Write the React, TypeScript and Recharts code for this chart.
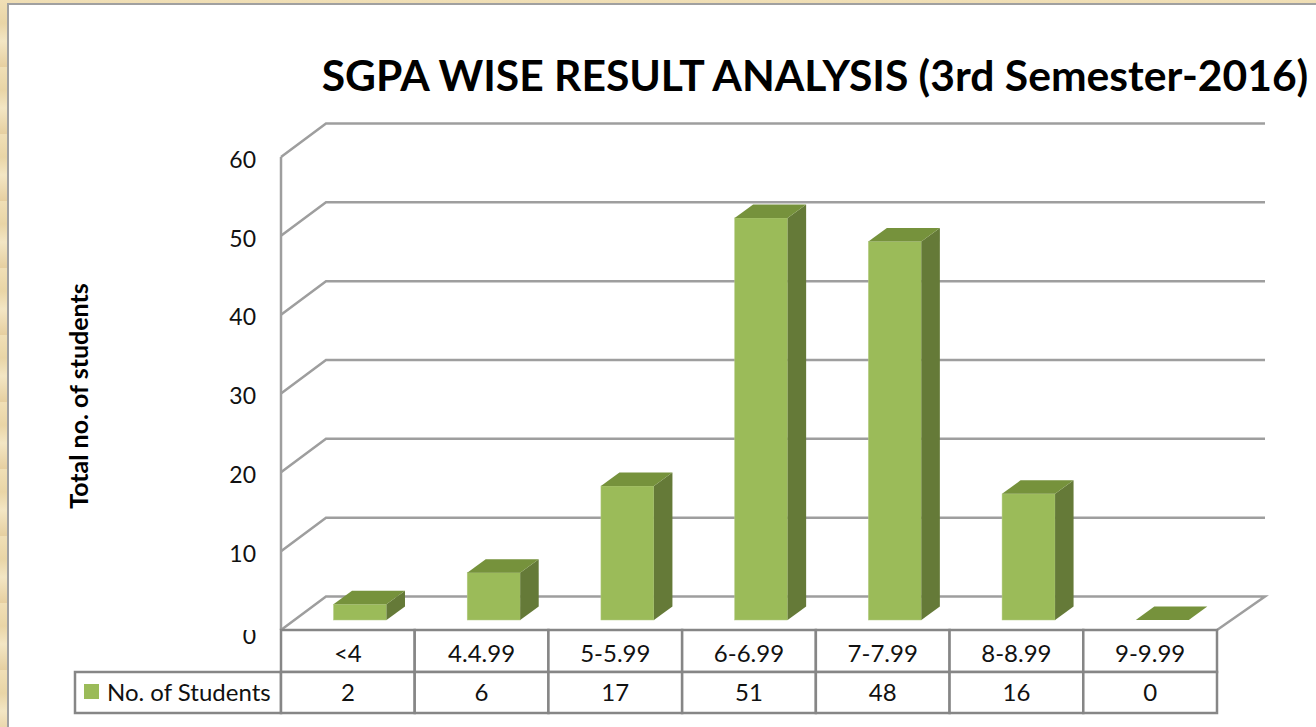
import React from 'react';
import { ComposedChart, Bar, XAxis, YAxis, CartesianGrid } from 'recharts';

const categories = ['<4', '4.4.99', '5-5.99', '6-6.99', '7-7.99', '8-8.99', '9-9.99'];
const students = [2, 6, 17, 51, 48, 16, 0];
const yTicks = [0, 10, 20, 30, 40, 50, 60];

const rows = categories.map((name, i) => ({ name, students: students[i] }));

const FONT = 'Lato, "Open Sans", sans-serif';
const GRID = '#9e9e9e';
const TABLE = '#868686';

// 3D look: back wall sits up and to the right of the front axis
const BACK_X = 45;
const BACK_Y = 33.5;

const GridLine: React.FC<any> = ({ x1, x2, y1, index }) => {
  const isFloor = index === 0 || Math.abs(y1 - 630) < 1;
  const pts = isFloor
    ? `${x1},${y1} ${x1 + BACK_X},${y1 - BACK_Y} ${x2 + 48},${y1 - BACK_Y} ${x2},${y1}`
    : `${x1},${y1} ${x1 + BACK_X},${y1 - BACK_Y} ${x2 + 48},${y1 - BACK_Y}`;
  return <polyline points={pts} fill="none" stroke={GRID} strokeWidth={2.5} />;
};

// box with front, top and side faces, moved off the front axis onto the floor
const Box3D: React.FC<any> = ({ x, y, width, height }) => {
  const d = { x: 18.5, y: 13.5 };
  const ox = x + 12.5;
  const oy = y - 10;
  const r = ox + width;
  const b = oy + height;
  return (
    <g>
      {height > 0 && <rect x={ox} y={oy} width={width} height={height} fill="#9bbb59" stroke="#b5cc85" strokeWidth={0.5} />}
      {height > 0 && (
        <polygon
          points={`${r},${oy} ${r + d.x},${oy - d.y} ${r + d.x},${b - d.y} ${r},${b}`}
          fill="#657a38"
        />
      )}
      <polygon
        points={`${ox},${oy} ${ox + d.x},${oy - d.y} ${r + d.x},${oy - d.y} ${r},${oy}`}
        fill="#76923c"
      />
    </g>
  );
};

const YTick: React.FC<any> = ({ x, y, payload }) => {
  const isZero = payload.value === 0;
  const text = (
    <text
      x={256}
      y={y + (isZero ? 8 : 5)}
      textAnchor="end"
      dominantBaseline="middle"
      fontSize={23}
      fontFamily={FONT}
      fill="#111"
    >
      {payload.value}
    </text>
  );
  if (!isZero) return text;
  // the zero is cut off by the data table in the original
  return (
    <g>
      <clipPath id="zeroClip">
        <rect x={x - 60} y={y} width={60} height={30} />
      </clipPath>
      <g clipPath="url(#zeroClip)">{text}</g>
    </g>
  );
};

// each category draws its own two table cells
const TableTick: React.FC<any> = ({ x, payload, index }) => {
  const cw = 936 / categories.length;
  const left = x - cw / 2;
  return (
    <g fontFamily={FONT} fontSize={24} fill="#111" textAnchor="middle">
      <rect x={left} y={630} width={cw} height={42} fill="#fff" stroke={TABLE} strokeWidth={2.5} />
      <rect x={left} y={672} width={cw} height={41} fill="#fff" stroke={TABLE} strokeWidth={2.5} />
      <text x={x} y={656} dominantBaseline="middle">{payload.value}</text>
      <text x={x} y={695} dominantBaseline="middle">{students[index]}</text>
    </g>
  );
};

export default function App() {
  return (
    <div
      style={{
        position: 'absolute',
        left: 0,
        top: 0,
        width: 1316,
        height: 727,
        overflow: 'hidden',
        background: 'repeating-linear-gradient(180deg, #f0dfb6 0px, #e9d5a6 23px, #f3e6c4 41px, #e6cfa0 67px)',
      }}
    >
      <div
        style={{
          position: 'absolute',
          left: 7,
          top: 3,
          width: 1320,
          height: 740,
          background: '#fff',
          borderLeft: '2px solid #a0a0a0',
          borderTop: '2px solid #a0a0a0',
        }}
      />
      <ComposedChart
        width={1316}
        height={727}
        data={rows}
        margin={{ top: 157, right: 99, bottom: 0, left: 0 }}
        style={{ position: 'absolute', left: 0, top: 0 }}
      >
        <CartesianGrid vertical={false} horizontal={(p: any) => <GridLine key={p.index} {...p} />} />
        <XAxis
          dataKey="name"
          height={97}
          interval={0}
          axisLine={false}
          tickLine={false}
          tick={(p: any) => <TableTick key={p.index} {...p} />}
        />
        <YAxis
          width={281}
          domain={[0, 60]}
          ticks={yTicks}
          interval={0}
          axisLine={{ stroke: GRID, strokeWidth: 2.5 }}
          tickLine={false}
          tick={(p: any) => <YTick key={p.payload.value} {...p} />}
        />
        <Bar dataKey="students" barSize={53} shape={(p: any) => <Box3D {...p} />} isAnimationActive={false} />

        <text x={815} y={80} textAnchor="middle" dominantBaseline="middle" fontFamily={FONT} fontWeight={700} fontSize={42.6} fill="#000">
          SGPA WISE RESULT ANALYSIS (3rd Semester-2016)
        </text>
        <text
          x={82}
          y={396}
          transform="rotate(-90 82 396)"
          textAnchor="middle"
          dominantBaseline="middle"
          fontFamily={FONT}
          fontWeight={700}
          fontSize={25}
          fill="#000"
        >
          Total no. of students
        </text>

        {/* legend key cell of the data table */}
        <rect x={75} y={672} width={206} height={41} fill="#fff" stroke={TABLE} strokeWidth={2.5} />
        <rect x={84} y={684} width={15} height={15} fill="#9bbb59" />
        <text x={107} y={695} dominantBaseline="middle" fontFamily={FONT} fontSize={24} fill="#111">
          No. of Students
        </text>
      </ComposedChart>
    </div>
  );
}
